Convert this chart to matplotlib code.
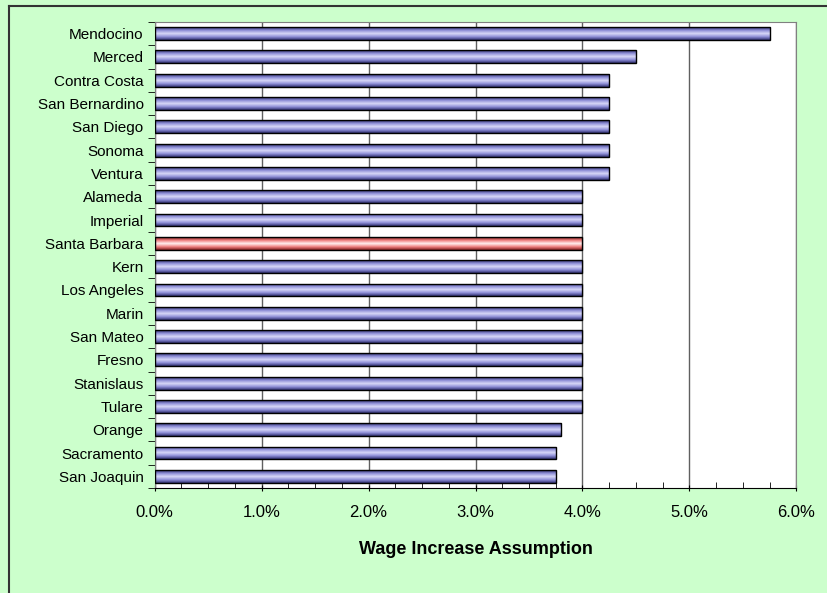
import numpy as np
import matplotlib.pyplot as plt
from matplotlib.ticker import MultipleLocator, PercentFormatter
from matplotlib.colors import LinearSegmentedColormap

counties = ["Mendocino", "Merced", "Contra Costa", "San Bernardino", "San Diego",
            "Sonoma", "Ventura", "Alameda", "Imperial", "Santa Barbara", "Kern",
            "Los Angeles", "Marin", "San Mateo", "Fresno", "Stanislaus", "Tulare",
            "Orange", "Sacramento", "San Joaquin"]
wage_increase = [5.75, 4.5, 4.25, 4.25, 4.25, 4.25, 4.25, 4.0, 4.0, 4.0, 4.0,
                 4.0, 4.0, 4.0, 4.0, 4.0, 4.0, 3.8, 3.75, 3.75]
highlight = "Santa Barbara"

plt.rcParams["font.family"] = ["Liberation Sans", "DejaVu Sans"]

fig = plt.figure(figsize=(8.27, 5.93), dpi=100, facecolor="#CCFFCC")
# chart frame: only the top and left edges are inside the picture
fig.lines.append(plt.Line2D([0.011, 1.0], [0.990, 0.990], transform=fig.transFigure,
                            color="#333333", linewidth=1.5))
fig.lines.append(plt.Line2D([0.011, 0.011], [0.0, 0.990], transform=fig.transFigure,
                            color="#333333", linewidth=1.5))
ax = fig.add_axes([0.187, 0.177, 0.776, 0.786])
ax.set_facecolor("white")

blue = LinearSegmentedColormap.from_list("b", ["#303070", "#8f8fd8", "#d8d8f8", "#8f8fd8", "#303070"])
red = LinearSegmentedColormap.from_list("r", ["#802020", "#f08080", "#fff0f0", "#f08080", "#802020"])
grad = np.linspace(0, 1, 64).reshape(-1, 1)

y = np.arange(len(counties))
bars = ax.barh(y, wage_increase, height=0.55, color="none", edgecolor="black", linewidth=1.0, zorder=3)
for bar, name in zip(bars, counties):
    x0, y0 = bar.get_x(), bar.get_y()
    im = ax.imshow(grad, cmap=red if name == highlight else blue, aspect="auto",
                   extent=(x0, x0 + bar.get_width(), y0, y0 + bar.get_height()), zorder=2)
    im.set_clip_path(bar)

ax.set_xlim(0, 6)
ax.set_ylim(len(counties) - 0.5, -0.5)
ax.set_yticks(y)
ax.set_yticklabels(counties, fontsize=11)
ax.set_yticks(np.arange(len(counties) + 1) - 0.5, minor=True)
ax.tick_params(axis="y", which="major", length=0, pad=8)
ax.tick_params(axis="y", which="minor", length=5, direction="out")
ax.xaxis.set_major_locator(MultipleLocator(1))
ax.xaxis.set_minor_locator(MultipleLocator(0.25))
ax.xaxis.set_major_formatter(PercentFormatter(decimals=1))
ax.tick_params(axis="x", which="major", labelsize=12, length=5, direction="inout", pad=10)
ax.tick_params(axis="x", which="minor", length=4, direction="in")
ax.grid(axis="x", which="major", color="#606060", linewidth=1.0, zorder=1)
ax.set_axisbelow(True)
for s in ax.spines.values():
    s.set_color("#808080")
ax.spines["bottom"].set_color("black")
ax.set_xlabel("Wage Increase Assumption", fontsize=13, fontweight="bold", labelpad=15)

fig.savefig("out.png", dpi=100, facecolor=fig.get_facecolor())
